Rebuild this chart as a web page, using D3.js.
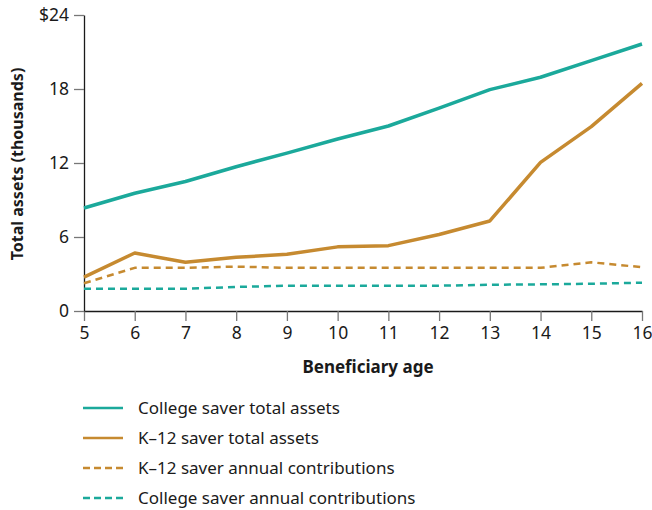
<!DOCTYPE html>
<html>
<head>
<meta charset="utf-8">
<script src="https://cdn.jsdelivr.net/npm/d3@7"></script>
<style>
  body { margin: 0; background: #fff; }
  text { font-family: "Noto Sans", sans-serif; fill: #1a1a1a; }
</style>
</head>
<body>
<div class="chart"></div>
<script>
    // beneficiary ages
    let ages = [5, 6, 7, 8, 9, 10, 11, 12, 13, 14, 15, 16]

    // values in thousands of dollars
    let collegeTotal = [8.35, 9.55, 10.5, 11.7, 12.8, 13.95, 15.0, 16.45, 17.95, 18.95, 20.3, 21.65]
    let k12Total = [2.75, 4.7, 3.95, 4.35, 4.6, 5.2, 5.3, 6.2, 7.3, 12.05, 14.95, 18.45]
    let k12Contrib = [2.25, 3.5, 3.5, 3.6, 3.5, 3.5, 3.5, 3.5, 3.5, 3.5, 3.95, 3.55]
    let collegeContrib = [1.8, 1.8, 1.8, 1.95, 2.05, 2.05, 2.05, 2.05, 2.13, 2.16, 2.21, 2.3]

    let yTicks = [0, 6, 12, 18, 24]

    let seriesNames = [
        "College saver total assets",
        "K\u201312 saver total assets",
        "K\u201312 saver annual contributions",
        "College saver annual contributions"
    ]

    let teal = "#1ba99b"
    let gold = "#c68a30"

    let series = [
        { name: seriesNames[0], values: collegeTotal, color: teal, dash: null, width: 3.5 },
        { name: seriesNames[1], values: k12Total, color: gold, dash: null, width: 3.5 },
        { name: seriesNames[2], values: k12Contrib, color: gold, dash: "7,5", width: 2.5 },
        { name: seriesNames[3], values: collegeContrib, color: teal, dash: "7,5", width: 2.5 }
    ]

    let margin = { left: 84, right: 10, top: 15, bottom: 199 }
    let width = 652 - margin.left - margin.right
    let height = 510 - margin.top - margin.bottom

    let svg = d3.select(".chart")
        .append("svg")
        .attr("width", 652)
        .attr("height", 510)

    let g = svg.append("g")
        .attr("transform", "translate(" + margin.left + ", " + margin.top + ")")

    //scales
    let x = d3.scaleLinear()
        .domain([5, 16])
        .range([0, width])

    let y = d3.scaleLinear()
        .domain([0, 24])
        .range([height, 0])

    //Axis
    let xAxis = d3.axisBottom(x)
        .tickValues(ages)
        .tickSize(10)
        .tickSizeOuter(0)
        .tickPadding(6)
    let xg = g.append("g")
        .attr("transform", "translate(0," + height + ")")
        .call(xAxis)
    xg.select(".domain").attr("stroke", "#1a1a1a").attr("stroke-width", 1.3)
    xg.selectAll(".tick line").attr("stroke", "#777").attr("stroke-width", 1.3)
    xg.selectAll(".tick text").style("font-size", "17.5px")

    let yAxis = d3.axisLeft(y)
        .tickValues(yTicks)
        .tickSize(10)
        .tickSizeOuter(0)
        .tickPadding(5)
        .tickFormat(d => d === 24 ? "$24" : d)
    let yg = g.append("g")
        .call(yAxis)
    yg.select(".domain").attr("stroke", "#1a1a1a").attr("stroke-width", 1.3)
    yg.selectAll(".tick line").attr("stroke", "#777").attr("stroke-width", 1.3)
    yg.selectAll(".tick text").style("font-size", "17.5px")

    // axis titles
    g.append("text")
        .attr("x", width / 2 + 5)
        .attr("y", height + 62)
        .attr("text-anchor", "middle")
        .style("font-size", "17px")
        .style("font-weight", "bold")
        .text("Beneficiary age")

    g.append("text")
        .attr("transform", "translate(" + (-61) + "," + (height / 2 + 1) + ") rotate(-90)")
        .attr("text-anchor", "middle")
        .style("font-size", "16px")
        .style("font-weight", "bold")
        .text("Total assets (thousands)")

    let line = d3.line()
        .x((d, i) => x(ages[i]))
        .y(d => y(d))

    g.selectAll("path.line")
        .data(series.slice().reverse())
        .enter()
        .append("path")
        .attr("class", "line")
        .attr("fill", "none")
        .attr("stroke", d => d.color)
        .attr("stroke-width", d => d.width)
        .attr("stroke-dasharray", d => d.dash)
        .attr("stroke-linejoin", "round")
        .attr("d", d => line(d.values))

    // legend
    let legend = svg.append("g")
        .attr("transform", "translate(83, 408)")

    let rows = legend.selectAll("g")
        .data(series)
        .enter()
        .append("g")
        .attr("transform", (d, i) => "translate(0," + i * 30 + ")")

    rows.append("line")
        .attr("x1", 0)
        .attr("x2", 40)
        .attr("stroke", d => d.color)
        .attr("stroke-width", 2.5)
        .attr("stroke-dasharray", d => d.dash ? "7,4" : null)

    rows.append("text")
        .attr("x", 55)
        .attr("dy", "0.35em")
        .style("font-size", "17px")
        .text(d => d.name)
</script>
</body>
</html>
